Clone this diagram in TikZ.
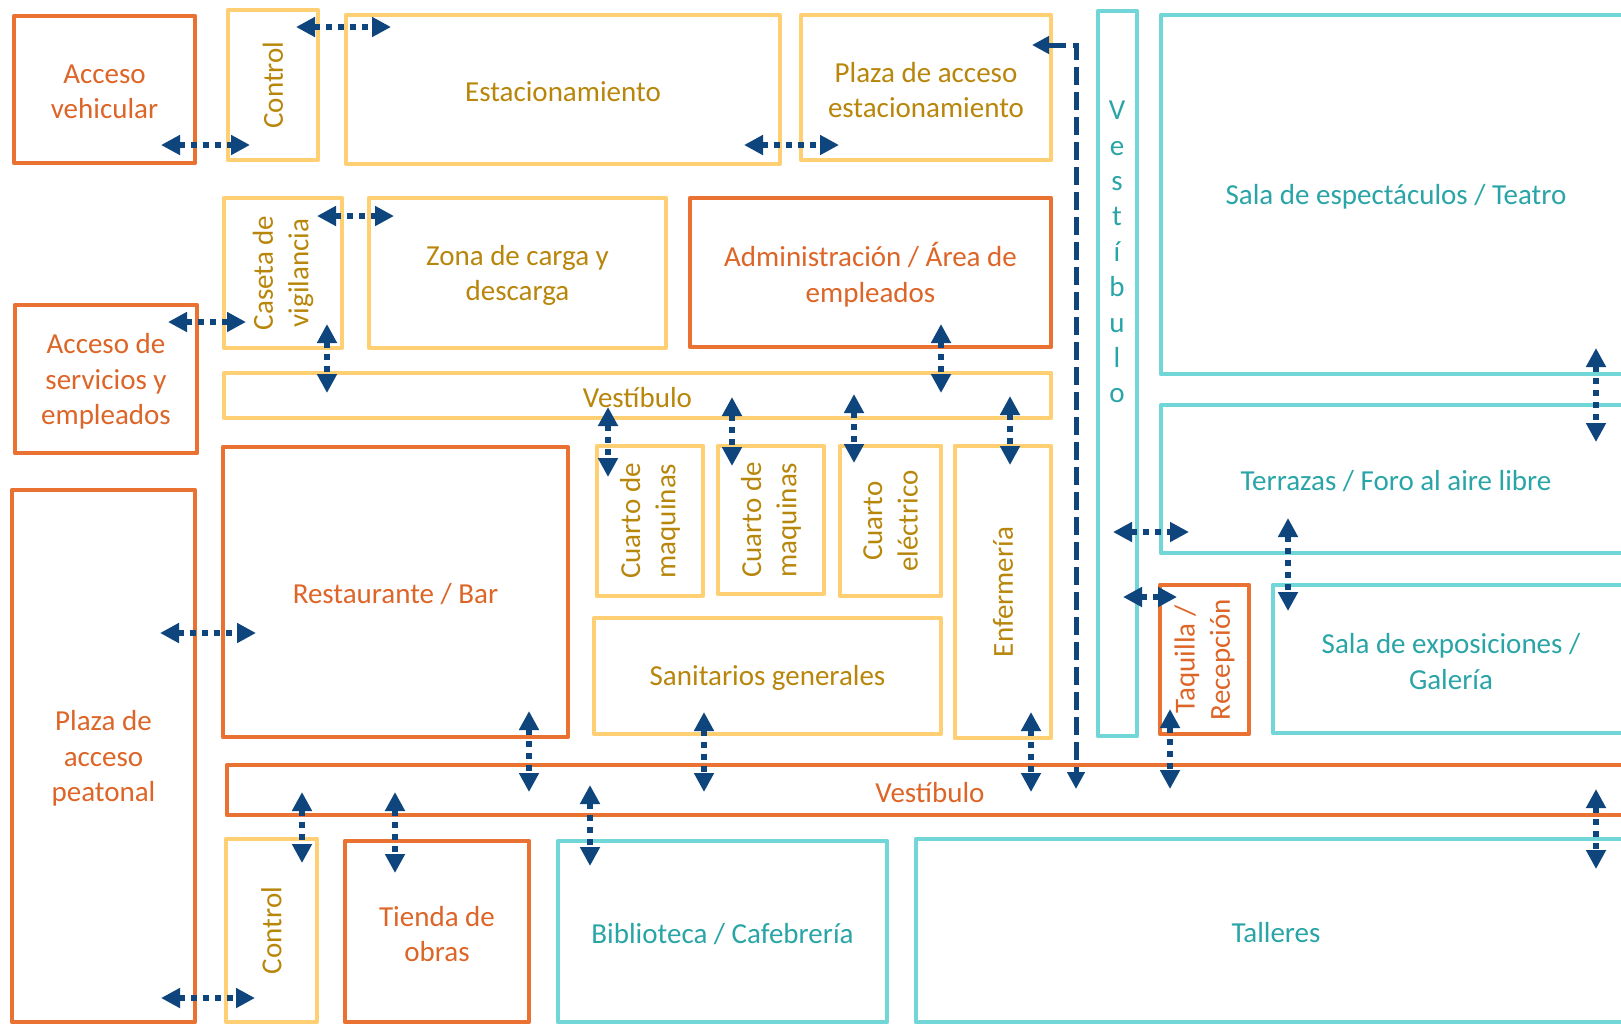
\documentclass[tikz,border=0pt]{standalone}
\usepackage{fontspec}
\setmainfont{Carlito}
\usetikzlibrary{arrows.meta}
\definecolor{orB}{HTML}{E97132}
\definecolor{orT}{HTML}{DD6527}
\definecolor{yeB}{HTML}{FFD073}
\definecolor{yeT}{HTML}{B8860B}
\definecolor{teB}{HTML}{70D6D8}
\definecolor{teT}{HTML}{2AA5A7}
\definecolor{arr}{HTML}{0F457D}
\tikzset{
  room/.style={draw, line width=2.2pt, line join=round, inner sep=0pt, outer sep=0pt, align=center, font=\fontsize{14.5pt}{17.7pt}\selectfont},
  oroom/.style={room, draw=orB, text=orT},
  yroom/.style={room, draw=yeB, text=yeT},
  troom/.style={room, draw=teB, text=teT},
  rtext/.style={rotate=90, align=center, inner sep=0pt, font=\fontsize{14.5pt}{17.7pt}\selectfont},
  link/.style={draw=arr, line width=3pt, dash pattern=on 3pt off 3pt, {Triangle[length=9.5pt,width=9.5pt]}-{Triangle[length=9.5pt,width=9.5pt]}},
  dlink/.style={draw=arr, line width=2.5pt, dash pattern=on 9pt off 3.5pt, {Triangle[length=8.5pt,width=8.5pt]}-{Triangle[length=8.5pt,width=8.5pt]}},
}
\newcommand\room[7]{%
  \node[#1, minimum width={(#5-#3)*0.5pt}, minimum height={(#6-#4)*0.5pt}] (#2) at ({(#3+#5)/2},{(#4+#6)/2}) {};
  \node[#1, draw=none, yshift=-1.2pt] (#2t) at (#2) {#7};}
\begin{document}
\begin{tikzpicture}[x=0.5pt, y=-0.5pt]
\path[use as bounding box] (0,0) rectangle (1621,1025);
\fill[white] (0,0) rectangle (1621,1025);
\clip (0,0) rectangle (1621,1025);

% rooms
\room{oroom}{accveh}{14}{16}{195}{163}{Acceso\\vehicular}
\room{yroom}{ctrlA}{228}{10}{318}{160}{}
\node[rtext, text=yeT] (ctrlAr) at (ctrlA) {Control};
\room{yroom}{estac}{346}{15}{780}{164}{Estacionamiento}
\room{yroom}{plazaest}{801}{15}{1051}{160}{Plaza de acceso\\estacionamiento}
\room{yroom}{caseta}{224}{198}{342}{348}{}
\node[rtext, text=yeT] (casetar) at (caseta) {Caseta de\\vigilancia};
\room{yroom}{zona}{369}{198}{666}{348}{Zona de carga y\\descarga}
\room{oroom}{admin}{690}{198}{1051}{347}{Administración / Área de\\empleados}
\room{oroom}{accserv}{15}{305}{197}{453}{Acceso de\\servicios y\\empleados}
\room{yroom}{vestA}{224}{373}{1051}{418}{Vestíbulo}
\room{oroom}{rest}{223}{447}{568}{737}{Restaurante / Bar}
\room{yroom}{cmA}{597}{446}{703}{596}{}
\node[rtext, text=yeT] (cmAr) at (cmA) {Cuarto de\\maquinas};
\room{yroom}{cmB}{718}{446}{824}{594}{}
\node[rtext, text=yeT] (cmBr) at (cmB) {Cuarto de\\maquinas};
\room{yroom}{celec}{840}{446}{941}{596}{}
\node[rtext, text=yeT] (celecr) at (celec) {Cuarto\\eléctrico};
\room{yroom}{enf}{955}{446}{1051}{738}{}
\node[rtext, text=yeT] (enfr) at (enf) {Enfermería};
\room{yroom}{sanit}{594}{618}{941}{734}{Sanitarios generales}
\room{oroom}{plazapeat}{12}{490}{195}{1022}{Plaza de\\acceso\\peatonal}
\room{oroom}{vestB}{227}{765}{1633}{815}{Vestíbulo}
\room{yroom}{ctrlB}{226}{839}{317}{1022}{}
\node[rtext, text=yeT] (ctrlBr) at (ctrlB) {Control};
\room{oroom}{tienda}{345}{841}{529}{1022}{Tienda de\\obras}
\room{troom}{biblio}{558}{841}{887}{1022}{Biblioteca / Cafebrería}
\room{troom}{talleres}{916}{839}{1636}{1022}{Talleres}
\room{troom}{vestC}{1098}{11}{1137}{736}{}
\node[room, draw=none, text=teT] (vestCr) at (1117,252) {V\\e\\s\\t\\í\\b\\u\\l\\o};
\room{troom}{sala}{1161}{15}{1631}{374}{Sala de espectáculos / Teatro}
\room{troom}{terr}{1161}{405}{1631}{553}{Terrazas / Foro al aire libre}
\room{oroom}{taq}{1160}{585}{1249}{734}{}
\node[rtext, text=orT] (taqr) at (taq) {Taquilla /\\Recepción};
\room{troom}{salaexp}{1273}{585}{1629}{733}{Sala de exposiciones /\\Galería}

% connector end points
\coordinate (a1s) at (161,145);  \coordinate (a1e) at (250,145);
\coordinate (a2s) at (296,27);   \coordinate (a2e) at (391,27);
\coordinate (a3s) at (744,145);  \coordinate (a3e) at (839,145);
\coordinate (a4s) at (317,216);  \coordinate (a4e) at (394,216);
\coordinate (a5s) at (168,322);  \coordinate (a5e) at (246,322);
\coordinate (a6s) at (160,633);  \coordinate (a6e) at (256,633);
\coordinate (a7s) at (161,998);  \coordinate (a7e) at (255,998);
\coordinate (a8s) at (1113,532); \coordinate (a8e) at (1189,532);
\coordinate (a9s) at (1123,597); \coordinate (a9e) at (1177,597);
\coordinate (v1s) at (327,324);  \coordinate (v1e) at (327,393);
\coordinate (v2s) at (941,324);  \coordinate (v2e) at (941,393);
\coordinate (v3s) at (608,407);  \coordinate (v3e) at (608,477);
\coordinate (v4s) at (732,397);  \coordinate (v4e) at (732,466);
\coordinate (v5s) at (854,394);  \coordinate (v5e) at (854,463);
\coordinate (v6s) at (1010,396); \coordinate (v6e) at (1010,465);
\coordinate (v7s) at (529,711);  \coordinate (v7e) at (529,792);
\coordinate (v8s) at (704,712);  \coordinate (v8e) at (704,792);
\coordinate (v9s) at (1031,712); \coordinate (v9e) at (1031,792);
\coordinate (v10s) at (1170,709); \coordinate (v10e) at (1170,789);
\coordinate (v11s) at (302,792); \coordinate (v11e) at (302,863);
\coordinate (v12s) at (395,792); \coordinate (v12e) at (395,873);
\coordinate (v13s) at (590,785); \coordinate (v13e) at (590,866);
\coordinate (v14s) at (1596,348); \coordinate (v14e) at (1596,442);
\coordinate (v15s) at (1288,518); \coordinate (v15e) at (1288,611);
\coordinate (v16s) at (1596,789); \coordinate (v16e) at (1596,869);
\coordinate (dA) at (1032,45);   \coordinate (dB) at (1076,789);

% connectors
\foreach \c in {a1,a2,a3,a4,a5,a6,a7,a8,a9,v1,v2,v3,v4,v5,v6,v7,v8,v9,v10,v11,v12,v13,v14,v15,v16}{
  \draw[link] (\c s) -- (\c e);
}
\draw[dlink] (dA) -| (dB);
\end{tikzpicture}
\end{document}
